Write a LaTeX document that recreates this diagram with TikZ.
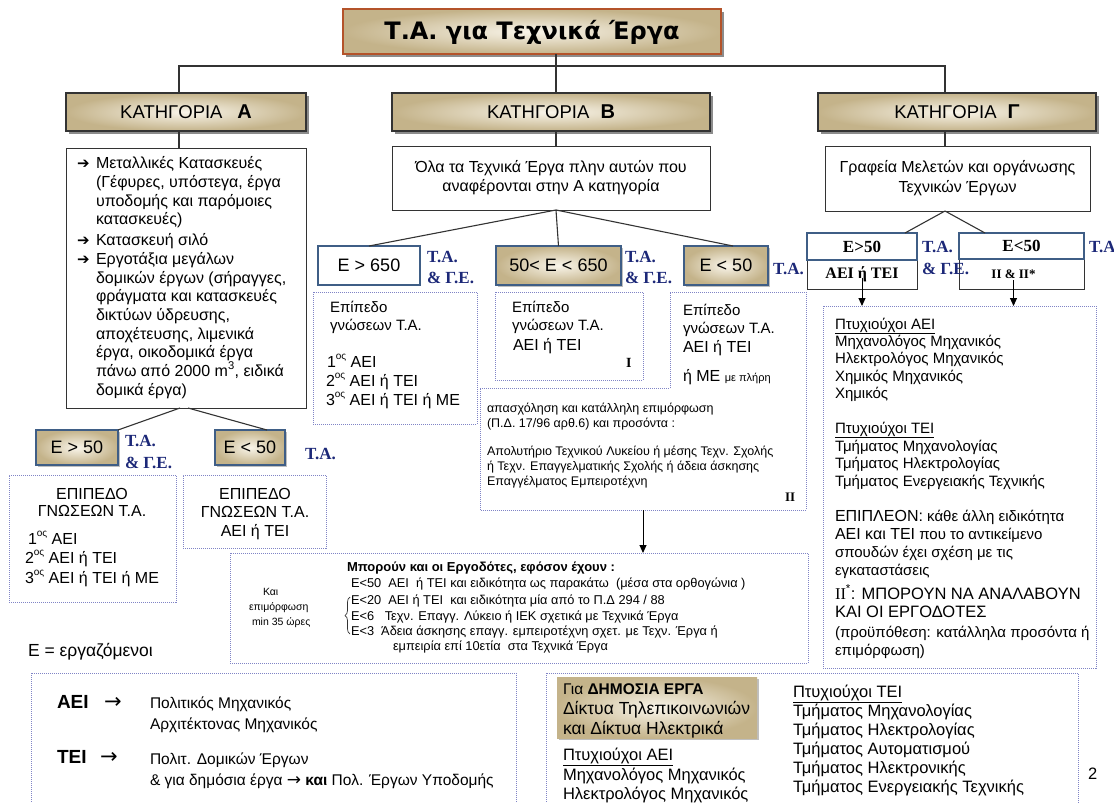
\documentclass[tikz,border=0pt]{standalone}
\usepackage{fontspec}
\setmainfont{Liberation Sans}
\newfontfamily\serf{Liberation Serif}
\newfontfamily\djv{DejaVu Sans}
\usetikzlibrary{shadows,arrows.meta,fit,decorations.pathreplacing}
\definecolor{beL}{HTML}{F9F5EA}
\definecolor{beD}{HTML}{C4B38A}
\definecolor{rust}{HTML}{B4532A}
\definecolor{steel}{HTML}{3F5E86}
\definecolor{dotc}{HTML}{8084C6}
\definecolor{navy}{HTML}{1C2878}
\definecolor{lineg}{HTML}{333333}
\newcommand\fs[2]{\fontsize{#1}{#2}\selectfont}
\newcommand\ord[1]{\raisebox{0.45em}{\fontsize{10}{10}\selectfont #1}}
\newcommand\tl[4][]{\node[t,#1] (#2) at (#3) {#4};}
\begin{document}
\begin{tikzpicture}[x=1pt,y=-1pt,
  every node/.style={inner sep=0pt,outer sep=0pt},
  grad/.style={inner color=beL,outer color=beD},
  shad/.style={drop shadow={shadow xshift=2.5pt,shadow yshift=-2.5pt,fill=black,opacity=0.45}},
  lshad/.style={drop shadow={shadow xshift=1.5pt,shadow yshift=-1.5pt,fill=black,opacity=0.25}},
  catbox/.style={grad,draw=lineg,line width=1.3pt,shad},
  plain/.style={draw=lineg,line width=1pt,fill=white},
  ebox/.style={draw=steel,line width=1.6pt},
  dbox/.style={draw=dotc,line width=0.9pt,dash pattern=on 1pt off 1pt},
  conn/.style={draw=lineg,line width=1.1pt},
  arr/.style={draw=black,line width=1pt,-{Triangle[length=8pt,width=7pt]}},
  lbl/.style={anchor=base west,text=navy,font=\serf\bfseries\fs{17}{17}},
  t/.style={anchor=base west},
  tc/.style={anchor=base},
]
\fill[white] (0,0) rectangle (1114,803);
\useasboundingbox (0,0) rectangle (1114,803);
\clip (0,0) rectangle (1114,803);

% ---------- title and categories
\node[catbox,draw=rust,line width=1.8pt,fit={(343,9)(721,54)}] (title) {};
\node[font=\djv\bfseries\fs{24}{24}] (titleT) at ([yshift=-1pt]title.center) {Τ.Α. για Τεχνικά Έργα};
\node[catbox,fit={(66,93)(306,131)}] (catA) {};
\node[catbox,fit={(392,93)(710,131)}] (catB) {};
\node[catbox,fit={(818,93)(1096,131)}] (catG) {};
\node[font=\fs{18.5}{18.5}] (catAT) at (catA.center) {ΚΑΤΗΓΟΡΙΑ\hspace{0.8em}{\bfseries\fs{20}{20}Α}};
\node[font=\fs{18.5}{18.5}] (catBT) at (catB.center) {ΚΑΤΗΓΟΡΙΑ\hspace{0.6em}{\bfseries\fs{20}{20}Β}};
\node[font=\fs{18.5}{18.5}] (catGT) at (catG.center) {ΚΑΤΗΓΟΡΙΑ\hspace{0.6em}{\bfseries\fs{20}{20}Γ}};
\coordinate (jA) at (179,66);
\coordinate (jB) at (556,66);
\coordinate (jG) at (945,66);
\draw[conn] (jB |- title.south) -- (jB |- catB.north);
\draw[conn] (jA |- catA.north) -- (jA) -- (jG) -- (jG |- catG.north);

% ---------- category A
\node[plain,fit={(66,148)(306,408)}] (Abox) {};
\draw[conn] (jA |- catA.south) -- (jA |- Abox.north);
\begin{scope}[nodes={font=\fs{16}{16}}]
\tl[font=\djv\bfseries\fs{15}{15}]{aa1}{77,168}{➔}
\tl[font=\djv\bfseries\fs{15}{15}]{aa2}{77,245}{➔}
\tl[font=\djv\bfseries\fs{15}{15}]{aa3}{77,264}{➔}
\tl{a1}{96,168}{Μεταλλικές Κατασκευές}
\tl{a2}{96,187}{(Γέφυρες, υπόστεγα, έργα}
\tl{a3}{96,206}{υποδομής και παρόμοιες}
\tl{a4}{96,224}{κατασκευές)}
\tl{a5}{96,245}{Κατασκευή σιλό}
\tl{a6}{96,264}{Εργοτάξια μεγάλων}
\tl{a7}{96,283}{δομικών έργων (σήραγγες,}
\tl{a8}{96,301}{φράγματα και κατασκευές}
\tl{a9}{96,320}{δικτύων ύδρευσης,}
\tl{a10}{96,339}{αποχέτευσης, λιμενικά}
\tl{a11}{96,357}{έργα, οικοδομικά έργα}
\tl{a12}{96,376}{πάνω από 2000 m\textsuperscript{3}, ειδικά}
\tl{a13}{96,395}{δομικά έργα)}
\end{scope}

\node[ebox,grad,lshad,fit={(36,430)(118,465)}] (eA1) {};
\node[ebox,grad,lshad,fit={(215,430)(285,465)}] (eA2) {};
\node[font=\fs{18}{18}] (eA1T) at (eA1.center) {Ε > 50};
\node[font=\fs{18}{18}] (eA2T) at (eA2.center) {Ε < 50};
\draw[conn] ([xshift=-6pt]Abox.south) -- (eA1.north east);
\draw[conn] ([xshift=2pt]Abox.south) -- ([xshift=17pt]eA2.north);
\node[lbl] (lA1) at (125,446) {Τ.Α.};
\node[lbl] (lA2) at (125,468) {\& Γ.Ε.};
\node[lbl] (lA3) at (305,459) {Τ.Α.};

\node[dbox,fit={(9,475)(176,602)}] (dA1) {};
\node[dbox,fit={(183,475)(326,548)}] (dA2) {};
\begin{scope}[nodes={font=\fs{16}{16}}]
\tl[tc]{d1}{92,499}{ΕΠΙΠΕΔΟ}
\tl[tc]{d2}{92,516}{ΓΝΩΣΕΩΝ Τ.Α.}
\tl{d3}{28,544}{1\ord{ος} ΑΕΙ}
\tl{d4}{25,563}{2\ord{ος} ΑΕΙ ή ΤΕΙ}
\tl{d5}{25,583}{3\ord{ος} ΑΕΙ ή ΤΕΙ ή ΜΕ}
\tl[tc]{d6}{255,499}{ΕΠΙΠΕΔΟ}
\tl[tc]{d7}{255,517}{ΓΝΩΣΕΩΝ Τ.Α.}
\tl[tc]{d8}{255,536}{ΑΕΙ ή ΤΕΙ}
\end{scope}
\tl[font=\fs{17.5}{17.5}]{eq}{28,656}{Ε = εργαζόμενοι}

% ---------- category B
\node[plain,fit={(392,146)(710,210)}] (Bbox) {};
\node[align=center,font=\fs{16}{19}] (BboxT) at (Bbox.center) {Όλα τα Τεχνικά Έργα πλην αυτών που\\αναφέρονται στην Α κατηγορία};
\draw[conn] (jB |- catB.south) -- (jB |- Bbox.north);
\node[ebox,fill=white,fit={(318,246)(420,285)}] (eB1) {};
\node[ebox,grad,lshad,fit={(496,246)(621,285)}] (eB2) {};
\node[ebox,grad,lshad,fit={(684,246)(768,285)}] (eB3) {};
\node[font=\fs{18}{18}] (eB1T) at (eB1.center) {Ε > 650};
\node[font=\fs{18}{18}] (eB2T) at (eB2.center) {50< Ε < 650};
\node[font=\fs{18}{18}] (eB3T) at (eB3.center) {Ε < 50};
\draw[conn] ([xshift=5pt]Bbox.south) -- (eB1.north);
\draw[conn] ([xshift=5pt]Bbox.south) -- (eB2.north);
\draw[conn] ([xshift=5pt]Bbox.south) -- ([xshift=7pt]eB3.north);
\node[lbl] (lB1) at (427,262) {Τ.Α.};
\node[lbl] (lB2) at (427,283) {\& Γ.Ε.};
\node[lbl] (lB3) at (625,262) {Τ.Α.};
\node[lbl] (lB4) at (625,283) {\& Γ.Ε.};
\node[lbl] (lB5) at (773,274) {Τ.Α.};

\node[dbox,fit={(313,292)(477,424)}] (dB1) {};
\node[dbox,fit={(495,292)(643,380)}] (dB2) {};
\draw[dbox] (670,292) -- (806,292) -- (806,510) -- (480,510) -- (480,388) -- (670,388) -- cycle;
\coordinate (dB3s) at (643,510);
\begin{scope}[nodes={font=\fs{15}{15}}]
\tl{b1}{330,312}{Επίπεδο}
\tl{b2}{330,330}{γνώσεων Τ.Α.}
\tl[font=\fs{16}{16}]{b3}{327,367}{1\ord{ος} ΑΕΙ}
\tl[font=\fs{16}{16}]{b4}{326,386}{2\ord{ος} ΑΕΙ ή ΤΕΙ}
\tl[font=\fs{16}{16}]{b5}{326,405}{3\ord{ος} ΑΕΙ ή ΤΕΙ ή ΜΕ}
\tl{b6}{512,312}{Επίπεδο}
\tl{b7}{512,330}{γνώσεων Τ.Α.}
\tl[font=\fs{16}{16}]{b8}{513,350}{ΑΕΙ ή ΤΕΙ}
\tl[font=\serf\bfseries\fs{14}{14}]{b9}{626,367}{I}
\tl{b10}{683,315}{Επίπεδο}
\tl{b11}{683,333}{γνώσεων Τ.Α.}
\tl[font=\fs{16}{16}]{b12}{683,352}{ΑΕΙ ή ΤΕΙ}
\tl[font=\fs{16}{16}]{b13}{683,381}{ή ΜΕ {\fs{11}{11}με πλήρη}}
\end{scope}
\begin{scope}[nodes={font=\fs{12.5}{12.5}}]
\tl{c1}{487,412}{απασχόληση και κατάλληλη επιμόρφωση}
\tl{c2}{487,427}{(Π.Δ. 17/96 αρθ.6) και προσόντα :}
\tl{c3}{487,455}{Απολυτήριο Τεχνικού Λυκείου ή μέσης Τεχν. Σχολής}
\tl{c4}{487,470}{ή Τεχν. Επαγγελματικής Σχολής ή άδεια άσκησης}
\tl{c5}{487,485}{Επαγγέλματος Εμπειροτέχνη}
\tl[font=\serf\bfseries\fs{13}{13}]{c6}{785,501}{II}
\end{scope}

\node[dbox,fit={(230,553)(808,663)}] (dE) {};
\draw[arr] (dB3s) -- (dB3s |- dE.north);
\begin{scope}[nodes={font=\fs{12.8}{12.8}}]
\tl[font=\bfseries\fs{13}{13}]{e1}{347,571}{Μπορούν και οι Εργοδότες, εφόσον έχουν :}
\tl{e2}{351,587}{Ε<50\ \ ΑΕΙ\ \ ή ΤΕΙ και ειδικότητα ως παρακάτω\ \ (μέσα στα ορθογώνια )}
\tl{e3}{351,604}{Ε<20\ \ ΑΕΙ ή ΤΕΙ\ \ και ειδικότητα μία από το Π.Δ 294 / 88}
\tl{e4}{351,620}{Ε<6\ \ \ Τεχν. Επαγγ. Λύκειο ή ΙΕΚ σχετικά με Τεχνικά Έργα}
\tl{e5}{351,635}{Ε<3\ \ Άδεια άσκησης επαγγ. εμπειροτέχνη σχετ. με Τεχν. Έργα ή}
\tl{e6}{393,650}{εμπειρία επί 10ετία\ \ στα Τεχνικά Έργα}
\tl[font=\fs{10.5}{10.5}]{e7}{263,595}{Και}
\tl[font=\fs{10.5}{10.5}]{e8}{249,610}{επιμόρφωση}
\tl[font=\fs{10.5}{10.5}]{e9}{252,625}{min 35 ώρες}
\end{scope}
\draw[draw=lineg,line width=0.7pt,decorate,decoration={brace,amplitude=5pt}] (350,634) -- (350,597);

% ---------- category Gamma
\node[plain,fit={(825,146)(1090,211)}] (Gbox) {};
\node[align=center,font=\fs{16}{20}] (GboxT) at (Gbox.center) {Γραφεία Μελετών και οργάνωσης\\Τεχνικών Έργων};
\draw[conn] (jG |- catG.south) -- (jG |- Gbox.north);
\node[plain,line width=0.9pt,fit={(807,233)(917,289)}] (gA) {};
\node[ebox,fit={(807,233)(917,260)}] (gAt) {};
\node[fit={(807,260)(917,289)}] (gAb) {};
\node[plain,line width=0.9pt,fit={(959,233)(1084,289)}] (gB) {};
\node[ebox,fit={(959,233)(1084,259)}] (gBt) {};
\node[fit={(959,259)(1084,289)}] (gBb) {};
\node[font=\serf\bfseries\fs{17}{17}] (gAtT) at (gAt.center) {Ε>50};
\node[font=\serf\bfseries\fs{16}{16}] (gAbT) at (gAb.center) {ΑΕΙ ή ΤΕΙ};
\node[font=\serf\bfseries\fs{17}{17}] (gBtT) at (gBt.center) {Ε<50};
\node[font=\serf\bfseries\fs{13}{13}] (gBbT) at ([xshift=-8pt]gBb.center) {II \& II*};
\draw[conn] ([xshift=-12.5pt]Gbox.south) -- ([xshift=43pt]gAt.north);
\draw[conn] ([xshift=-12.5pt]Gbox.south) -- ([xshift=-36.5pt]gBt.north);
\node[lbl] (lG1) at (922,252) {Τ.Α.};
\node[lbl] (lG2) at (922,274) {\& Γ.Ε.};
\node[lbl] (lG3) at (1089,252) {Τ.Α};

\node[dbox,fit={(823,306)(1096,668)}] (dG) {};
\coordinate (gAa) at ([yshift=-3pt]gAb.center);
\coordinate (gBa) at ([xshift=-8pt,yshift=-6pt]gBb.center);
\draw[arr] (gAa) -- (gAa |- dG.north);
\draw[arr] (gBa) -- (gBa |- dG.north);
\begin{scope}[nodes={font=\fs{15}{15}}]
\tl{g1}{835,329}{\underline{Πτυχιούχοι ΑΕΙ}}
\tl{g2}{835,346}{Μηχανολόγος Μηχανικός}
\tl{g3}{835,363}{Ηλεκτρολόγος Μηχανικός}
\tl{g4}{835,381}{Χημικός Μηχανικός}
\tl{g5}{835,398}{Χημικός}
\tl{g6}{835,433}{\underline{Πτυχιούχοι ΤΕΙ}}
\tl{g7}{835,451}{Τμήματος Μηχανολογίας}
\tl{g8}{835,468}{Τμήματος Ηλεκτρολογίας}
\tl{g9}{835,486}{Τμήματος Ενεργειακής Τεχνικής}
\tl{g10}{835,521}{{\fs{16}{16}ΕΠΙΠΛΕΟΝ:} κάθε άλλη ειδικότητα}
\tl{g11}{835,539}{{\fs{16}{16}ΑΕΙ και ΤΕΙ} που το αντικείμενο}
\tl{g12}{835,557}{σπουδών έχει σχέση με τις}
\tl{g13}{835,575}{εγκαταστάσεις}
\tl[font=\fs{16.5}{16.5}]{g14}{835,599}{{\serf II}\textsuperscript{*}: ΜΠΟΡΟΥΝ ΝΑ ΑΝΑΛΑΒΟΥΝ}
\tl[font=\fs{16.5}{16.5}]{g15}{835,617}{ΚΑΙ ΟΙ ΕΡΓΟΔΟΤΕΣ}
\tl{g16}{835,637}{(προϋπόθεση: κατάλληλα προσόντα ή}
\tl{g17}{835,655}{επιμόρφωση)}
\end{scope}

% ---------- bottom left
\node[dbox,fit={(31,673)(516,815)}] (dL) {};
\begin{scope}[nodes={font=\fs{15.5}{15.5}}]
\tl[font=\bfseries\fs{19}{19}]{h1}{57,708}{ΑΕΙ}
\tl[font=\djv\fs{21}{21}]{h2}{104,708}{→}
\tl{h3}{150,708}{Πολιτικός Μηχανικός}
\tl{h4}{150,729}{Αρχιτέκτονας Μηχανικός}
\tl[font=\bfseries\fs{19}{19}]{h5}{57,763}{ΤΕΙ}
\tl[font=\djv\fs{21}{21}]{h6}{100,763}{→}
\tl{h7}{150,764}{Πολιτ. Δομικών Έργων}
\tl{h8}{150,785}{\& για δημόσια έργα {\djv\fs{17}{17}→} \textbf{και} Πολ. Έργων Υποδομής}
\end{scope}

% ---------- bottom right
\node[dbox,fit={(546,673)(1078,815)}] (dR) {};
\node[grad,lshad,fit={(557,677)(757,738)}] (pub) {};
\begin{scope}[nodes={font=\fs{16.5}{16.5}}]
\tl[font=\fs{15.5}{15.5}]{k1}{563,694}{Για \textbf{ΔΗΜΟΣΙΑ ΕΡΓΑ}}
\tl[font=\fs{17.5}{17.5}]{k2}{563,714}{Δίκτυα Τηλεπικοινωνιών}
\tl[font=\fs{17.5}{17.5}]{k3}{563,734}{και Δίκτυα Ηλεκτρικά}
\tl{k4}{563,760}{\underline{Πτυχιούχοι ΑΕΙ}}
\tl{k5}{563,780}{Μηχανολόγος Μηχανικός}
\tl{k6}{563,799}{Ηλεκτρολόγος Μηχανικός}
\tl{k7}{793,697}{\underline{Πτυχιούχοι ΤΕΙ}}
\tl{k8}{793,716}{Τμήματος Μηχανολογίας}
\tl{k9}{793,735}{Τμήματος Ηλεκτρολογίας}
\tl{k10}{793,754}{Τμήματος Αυτοματισμού}
\tl{k11}{793,773}{Τμήματος Ηλεκτρονικής}
\tl{k12}{793,792}{Τμήματος Ενεργειακής Τεχνικής}
\tl{k13}{1088,779}{2}
\end{scope}
\end{tikzpicture}
\end{document}
